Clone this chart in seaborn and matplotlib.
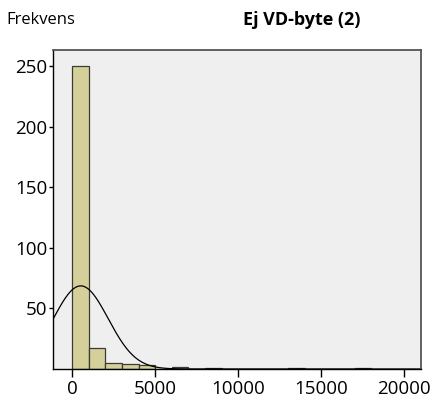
import numpy as np
import pandas as pd
import matplotlib
matplotlib.use("Agg")
import matplotlib.pyplot as plt
import seaborn as sns

# ---- data ----
bin_edges = list(range(0, 19000, 1000))
bin_counts = [250, 17, 5, 4, 3, 0, 2, 0, 1, 0, 0, 0, 0, 1, 0, 0, 0, 1]
curve_mean = 520
curve_sd = 1650
x_ticks = [0, 5000, 10000, 15000, 20000]
y_ticks = [50, 100, 150, 200, 250]
title_text = "Ej VD-byte (2)"
ylabel_text = "Frekvens"

sns.set_theme(style="white")
plt.rcParams['font.family'] = ['Open Sans', 'DejaVu Sans']

df = pd.DataFrame({"x": [e + 500 for e in bin_edges[:-1]], "w": bin_counts})

fig = plt.figure(figsize=(4.38, 4.01), dpi=100)
ax = fig.add_axes([53/438, 32/401, (421-53)/438, (369-50)/401])
ax.set_facecolor("#efefef")

sns.histplot(data=df, x="x", weights="w", bins=bin_edges, ax=ax,
             color="#d5d09a", alpha=1, edgecolor="#3a3a3a", linewidth=0.9)

n = sum(bin_counts)
xs = np.linspace(-1200, 21200, 600)
ys = n * 1000 / (curve_sd * np.sqrt(2 * np.pi)) * np.exp(-0.5 * ((xs - curve_mean) / curve_sd) ** 2)
sns.lineplot(x=xs, y=ys, ax=ax, color="black", linewidth=0.9)

ax.set_xlim(-1150, 21000)
ax.set_ylim(0, 263.5)
ax.set_xticks(x_ticks)
ax.set_yticks(y_ticks)
ax.set_xlabel("")
ax.set_ylabel("")
ax.tick_params(axis="x", bottom=True, direction="out", length=6, width=1, color="black",
               labelcolor="black", labelsize=13.5, pad=2)
ax.tick_params(axis="y", left=True, direction="out", length=3, width=1, color="black",
               labelcolor="black", labelsize=13.5, pad=1)
for side in ["left", "bottom"]:
    ax.spines[side].set_color("black")
    ax.spines[side].set_linewidth(1.0)
for side in ["top", "right"]:
    ax.spines[side].set_color("#555555")
    ax.spines[side].set_linewidth(1.3)

fig.text(6/438, 1 - 20/401, ylabel_text, ha="left", va="center", fontsize=12, color="black")
fig.text(302/438, 1 - 20/401, title_text, ha="center", va="center", fontsize=13,
         fontweight="bold", color="black")

fig.savefig("out.png", dpi=100)
